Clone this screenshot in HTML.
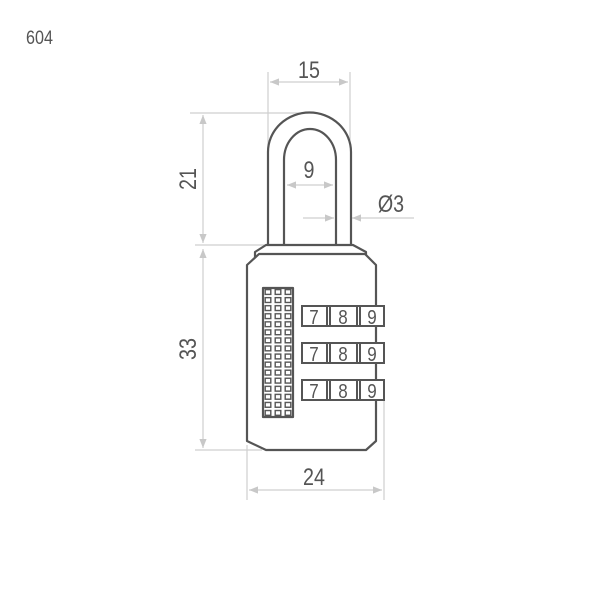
<!DOCTYPE html>
<html><head><style>body{margin:0;background:#fff}svg{display:block}text{font-family:"Liberation Sans",sans-serif;fill:#555}</style></head><body>
<svg width="600" height="600" viewBox="0 0 600 600" xmlns="http://www.w3.org/2000/svg">
<defs>
<marker id="a" viewBox="0 0 10 10" refX="10" refY="5" markerWidth="9" markerHeight="9" orient="auto-start-reverse" markerUnits="userSpaceOnUse"><path d="M0,1 L10,5 L0,9 z" fill="#c8c8c8"/></marker>
<pattern id="g" x="263" y="288" width="10" height="8.06" patternUnits="userSpaceOnUse"><rect x="2.2" y="1.6" width="5.6" height="4.8" fill="none" stroke="#555" stroke-width="1.4"/></pattern>
</defs>
<text transform="translate(26,44) scale(0.85,1)" font-size="19">604</text>
<g stroke="#cfcfcf" stroke-width="1.2" fill="none">
<line x1="268" y1="72" x2="268" y2="240"/>
<line x1="350" y1="72" x2="350" y2="140"/>
<line x1="270" y1="82" x2="348" y2="82" marker-start="url(#a)" marker-end="url(#a)"/>
<line x1="190" y1="113" x2="300" y2="113"/>
<line x1="195" y1="245" x2="268" y2="245"/>
<line x1="203" y1="115" x2="203" y2="243" marker-start="url(#a)" marker-end="url(#a)"/>
<line x1="203" y1="249" x2="203" y2="448" marker-start="url(#a)" marker-end="url(#a)"/>
<line x1="195" y1="450" x2="262" y2="450"/>
<line x1="287" y1="185" x2="333" y2="185" marker-start="url(#a)" marker-end="url(#a)"/>
<line x1="303" y1="218" x2="334" y2="218" marker-end="url(#a)"/>
<line x1="414" y1="218" x2="352" y2="218" marker-end="url(#a)"/>
<line x1="247" y1="445" x2="247" y2="500"/>
<line x1="384" y1="395" x2="384" y2="500"/>
<line x1="249" y1="490" x2="382" y2="490" marker-start="url(#a)" marker-end="url(#a)"/>
</g>
<g font-size="24" text-anchor="middle">
<text transform="translate(309,78) scale(0.82,1)">15</text>
<text transform="translate(309,178) scale(0.82,1)">9</text>
<text transform="translate(391,212) scale(0.82,1)">Ø3</text>
<text transform="translate(314,485) scale(0.82,1)">24</text>
<text transform="translate(196,179) rotate(-90) scale(0.82,1)">21</text>
<text transform="translate(196,349) rotate(-90) scale(0.82,1)">33</text>
</g>
<g stroke="#555" stroke-width="2.2" fill="none" stroke-linejoin="round">
<path d="M268,245 V152 A41,39 0 0 1 351,152 V245"/>
<path d="M284,245 V160 A26,31 0 0 1 336,160 V245"/>
<path d="M266,245 H353 L366,252 V258 H255 V252 Z" fill="#fff"/>
<path d="M247,265 L259,254 H365 L376,265 V441 L366,450 H266 L247,441 Z" fill="#fff"/>
<rect x="263" y="288" width="30" height="129" fill="url(#g)"/>
</g>
<g stroke="#555" stroke-width="2" fill="#fff">
<g id="d">
<rect x="302" y="306" width="82" height="20"/>
<line x1="327" y1="306" x2="327" y2="326"/><line x1="330" y1="306" x2="330" y2="326"/>
<line x1="357" y1="306" x2="357" y2="326"/><line x1="360" y1="306" x2="360" y2="326"/>
</g>
<use href="#d" y="37"/>
<use href="#d" y="74"/>
</g>
<g font-size="20" text-anchor="middle">
<text transform="translate(314,324) scale(0.85,1)">7</text><text transform="translate(343,324) scale(0.85,1)">8</text><text transform="translate(372,324) scale(0.85,1)">9</text>
<text transform="translate(314,361) scale(0.85,1)">7</text><text transform="translate(343,361) scale(0.85,1)">8</text><text transform="translate(372,361) scale(0.85,1)">9</text>
<text transform="translate(314,398) scale(0.85,1)">7</text><text transform="translate(343,398) scale(0.85,1)">8</text><text transform="translate(372,398) scale(0.85,1)">9</text>
</g>
</svg>
</body></html>
